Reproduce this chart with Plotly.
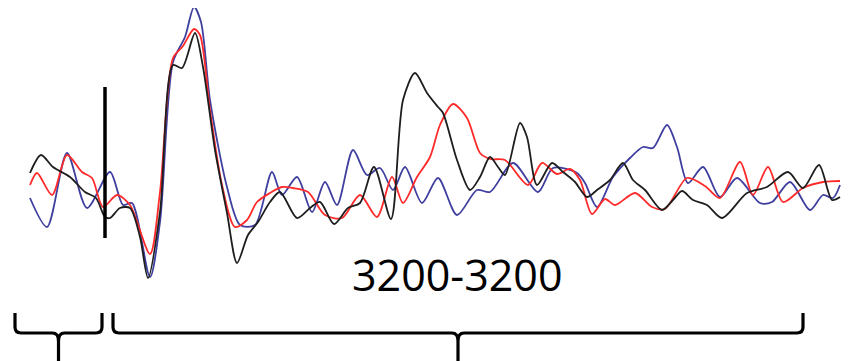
import plotly.graph_objects as go

# Pixel-space samples (x: time position, y: vertical position, top = 0)
blue_x = [30, 47, 67, 87, 110, 123, 132, 150, 160, 173, 185, 194, 201, 210, 227, 240, 255, 272, 282, 297,
          312, 325, 337, 353, 367, 380, 393, 405, 422, 438, 457, 477, 490, 513, 538, 553, 577, 585, 597, 613,
          630, 643, 653, 667, 677, 688, 703, 720, 737, 760, 772, 790, 810, 823, 833, 840]
blue_y = [198, 227, 153, 208, 172, 205, 203, 277, 222, 62, 37, 7, 22, 100, 187, 225, 225, 172, 195, 177,
          212, 182, 205, 150, 175, 168, 190, 167, 203, 178, 215, 190, 192, 163, 192, 168, 173, 183, 207, 177,
          158, 147, 148, 125, 147, 183, 167, 197, 178, 203, 202, 182, 210, 195, 198, 185]

red_x = [30, 37, 52, 67, 82, 92, 103, 117, 130, 150, 160, 173, 183, 194, 200, 210, 222, 235, 247, 257,
         270, 282, 293, 308, 325, 342, 360, 377, 392, 403, 417, 430, 440, 453, 467, 480, 490, 505, 528, 542,
         557, 570, 580, 592, 605, 615, 635, 652, 665, 687, 705, 720, 740, 753, 768, 783, 803, 823, 840]
red_y = [185, 173, 195, 155, 172, 178, 207, 195, 205, 254, 192, 58, 46, 29, 35, 110, 185, 227, 220, 202,
         193, 187, 188, 192, 215, 218, 195, 217, 177, 203, 177, 157, 125, 104, 118, 153, 159, 160, 185, 163,
         174, 169, 180, 214, 199, 205, 193, 207, 209, 178, 186, 198, 162, 195, 167, 202, 188, 182, 181]

black_x = [30, 41, 53, 70, 85, 96, 105, 110, 120, 130, 140, 148, 160, 173, 182, 195, 203, 215, 227, 237,
           248, 258, 270, 280, 297, 310, 320, 334, 348, 360, 374, 391, 403, 415, 427, 438, 443, 457, 470, 480,
           490, 498, 505, 520, 527, 537, 552, 563, 575, 587, 597, 610, 623, 633, 645, 662, 673, 682, 693, 707,
           722, 747, 767, 788, 803, 819, 832, 840]
black_y = [173, 155, 167, 177, 192, 198, 217, 218, 208, 208, 237, 278, 212, 65, 68, 33, 67, 150, 213, 263,
           235, 222, 202, 192, 218, 208, 202, 224, 208, 203, 167, 219, 100, 73, 93, 107, 113, 160, 190, 177,
           157, 167, 175, 123, 137, 185, 163, 172, 182, 197, 190, 180, 163, 180, 190, 210, 200, 191, 200, 205,
           218, 193, 187, 172, 188, 165, 200, 197]

onset_x = 105
onset_top, onset_bottom = 87, 238
label_text = "3200-3200"
bracket_spans = [(15, 102), (113, 803)]

# the page body has an 8px margin; shift the visible range so data units equal window pixels
OFF = 8
W, H = 850, 361

fig = go.Figure()
for xs, ys, col in [(blue_x, blue_y, "#3f3f9f"), (red_x, red_y, "#ff2a2a"), (black_x, black_y, "#1e1e1e")]:
    fig.add_trace(go.Scatter(x=xs, y=ys, mode="lines",
                             line=dict(color=col, width=1.8, shape="spline", smoothing=0.8),
                             hoverinfo="skip", showlegend=False))

shapes = [dict(type="line", xref="x", yref="y", x0=onset_x, x1=onset_x, y0=onset_top, y1=onset_bottom,
               line=dict(color="black", width=3.5))]

tip_y, bar_y, stem_y = 313, 333, 361
for a, b in bracket_spans:
    m = (a + b) / 2
    r = 6
    path = (f"M {a} {tip_y} L {a} {bar_y - r} Q {a} {bar_y} {a + r} {bar_y} L {m - r} {bar_y} "
            f"Q {m} {bar_y} {m} {bar_y + r + 2} L {m} {stem_y} "
            f"M {b} {tip_y} L {b} {bar_y - r} Q {b} {bar_y} {b - r} {bar_y} L {m + r} {bar_y} "
            f"Q {m} {bar_y} {m} {bar_y + r + 2}")
    shapes.append(dict(type="path", xref="x", yref="y", path=path,
                       line=dict(color="black", width=3.2)))

fig.update_layout(
    width=W - OFF, height=H - OFF,
    margin=dict(l=0, r=0, t=0, b=0),
    paper_bgcolor="white", plot_bgcolor="white",
    xaxis=dict(range=[OFF, W], visible=False, fixedrange=True),
    yaxis=dict(range=[H, OFF], visible=False, fixedrange=True),
    shapes=shapes,
    annotations=[dict(x=457, y=274, xref="x", yref="y", text=label_text, showarrow=False,
                      font=dict(family="Open Sans", size=43, color="black"),
                      xanchor="center", yanchor="middle")],
)

fig.write_html("out.html")
